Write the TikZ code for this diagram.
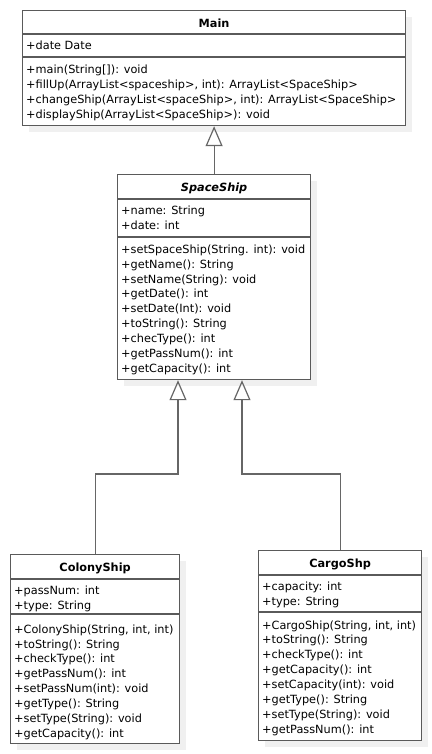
\documentclass[tikz,border=0pt]{standalone}
\usepackage{fontspec}
\setmainfont{DejaVu Sans}
\usetikzlibrary{arrows.meta,shadows}
\definecolor{boxc}{HTML}{5A5A5A}
\definecolor{linec}{HTML}{666666}
\definecolor{shadowc}{HTML}{F0F0F0}
\begin{document}
\begin{tikzpicture}[x=1pt,y=-1pt,
  classbox/.style={draw=boxc, line width=1.2pt, fill=white, inner sep=0pt, anchor=north west,
    drop shadow={shadow xshift=6pt, shadow yshift=-6pt, fill=shadowc, opacity=1}},
  sep/.style={draw=boxc, line width=1.2pt},
  ttl/.style={inner sep=0pt, anchor=base, font=\fontsize{11.3}{14.85}\selectfont\bfseries},
  txt/.style={inner sep=0pt, anchor=base west, align=left, xshift=4pt, font=\fontsize{11.3}{14.85}\selectfont},
  inh/.style={draw=linec, line width=1.2pt, -{Triangle[open, length=20pt, width=17pt]}}
]
\useasboundingbox (0,0) rectangle (431,754);

% Main
\node[classbox, minimum width=383pt, minimum height=115pt] (main) at (22,10) {};
\draw[sep] (main.west |- 0,34) -- (main.east |- 0,34);
\draw[sep] (main.west |- 0,57) -- (main.east |- 0,57);
\node[ttl] (mainT) at (main.north |- 0,28) {Main};
\node[txt] (mainA) at (main.west |- 0,50) {+date Date};
\node[txt] (mainO) at (main.west |- 0,118.5) {+main(String[]): void\\
+fillUp(ArrayList<spaceship>, int): ArrayList<SpaceShip>\\
+changeShip(ArrayList<spaceShip>, int): ArrayList<SpaceShip>\\
+displayShip(ArrayList<SpaceShip>): void};

% SpaceShip
\node[classbox, minimum width=193pt, minimum height=205pt] (space) at (117,174) {};
\draw[sep] (space.west |- 0,199) -- (space.east |- 0,199);
\draw[sep] (space.west |- 0,237) -- (space.east |- 0,237);
\node[ttl, font=\fontsize{11.3}{14.85}\selectfont\bfseries\itshape] (spaceT) at (space.north |- 0,191) {SpaceShip};
\node[txt] (spaceA) at (space.west |- 0,229.35) {+name: String\\
+date: int};
\node[txt] (spaceO) at (space.west |- 0,372.1) {+setSpaceShip(String. int): void\\
+getName(): String\\
+setName(String): void\\
+getDate(): int\\
+setDate(Int): void\\
+toString(): String\\
+checType(): int\\
+getPassNum(): int\\
+getCapacity(): int};

% ColonyShip
\node[classbox, minimum width=169pt, minimum height=189pt] (colony) at (10,554) {};
\draw[sep] (colony.west |- 0,579) -- (colony.east |- 0,579);
\draw[sep] (colony.west |- 0,614) -- (colony.east |- 0,614);
\node[ttl] (colonyT) at (colony.north |- 0,571.5) {ColonyShip};
\node[txt] (colonyA) at (colony.west |- 0,609.5) {+passNum: int\\
+type: String};
\node[txt] (colonyO) at (colony.west |- 0,737.2) {+ColonyShip(String, int, int)\\
+toString(): String\\
+checkType(): int\\
+getPassNum(): int\\
+setPassNum(int): void\\
+getType(): String\\
+setType(String): void\\
+getCapacity(): int};

% CargoShp
\node[classbox, minimum width=163pt, minimum height=190pt] (cargo) at (258,550) {};
\draw[sep] (cargo.west |- 0,575) -- (cargo.east |- 0,575);
\draw[sep] (cargo.west |- 0,612) -- (cargo.east |- 0,612);
\node[ttl] (cargoT) at (cargo.north |- 0,567.5) {CargoShp};
\node[txt] (cargoA) at (cargo.west |- 0,605.5) {+capacity: int\\
+type: String};
\node[txt] (cargoO) at (cargo.west |- 0,733) {+CargoShip(String, int, int)\\
+toString(): String\\
+checkType(): int\\
+getCapacity(): int\\
+setCapacity(int): void\\
+getType(): String\\
+setType(String): void\\
+getPassNum(): int};

% Generalizations
\draw[inh] (space.north) -- (main.south);
\coordinate (j1) at (178,474);
\coordinate (j2) at (242,474);
\draw[inh] (colony.north) |- (j1) -- (j1 |- space.south);
\draw[inh] (cargo.north) |- (j2) -- (j2 |- space.south);
\end{tikzpicture}
\end{document}
